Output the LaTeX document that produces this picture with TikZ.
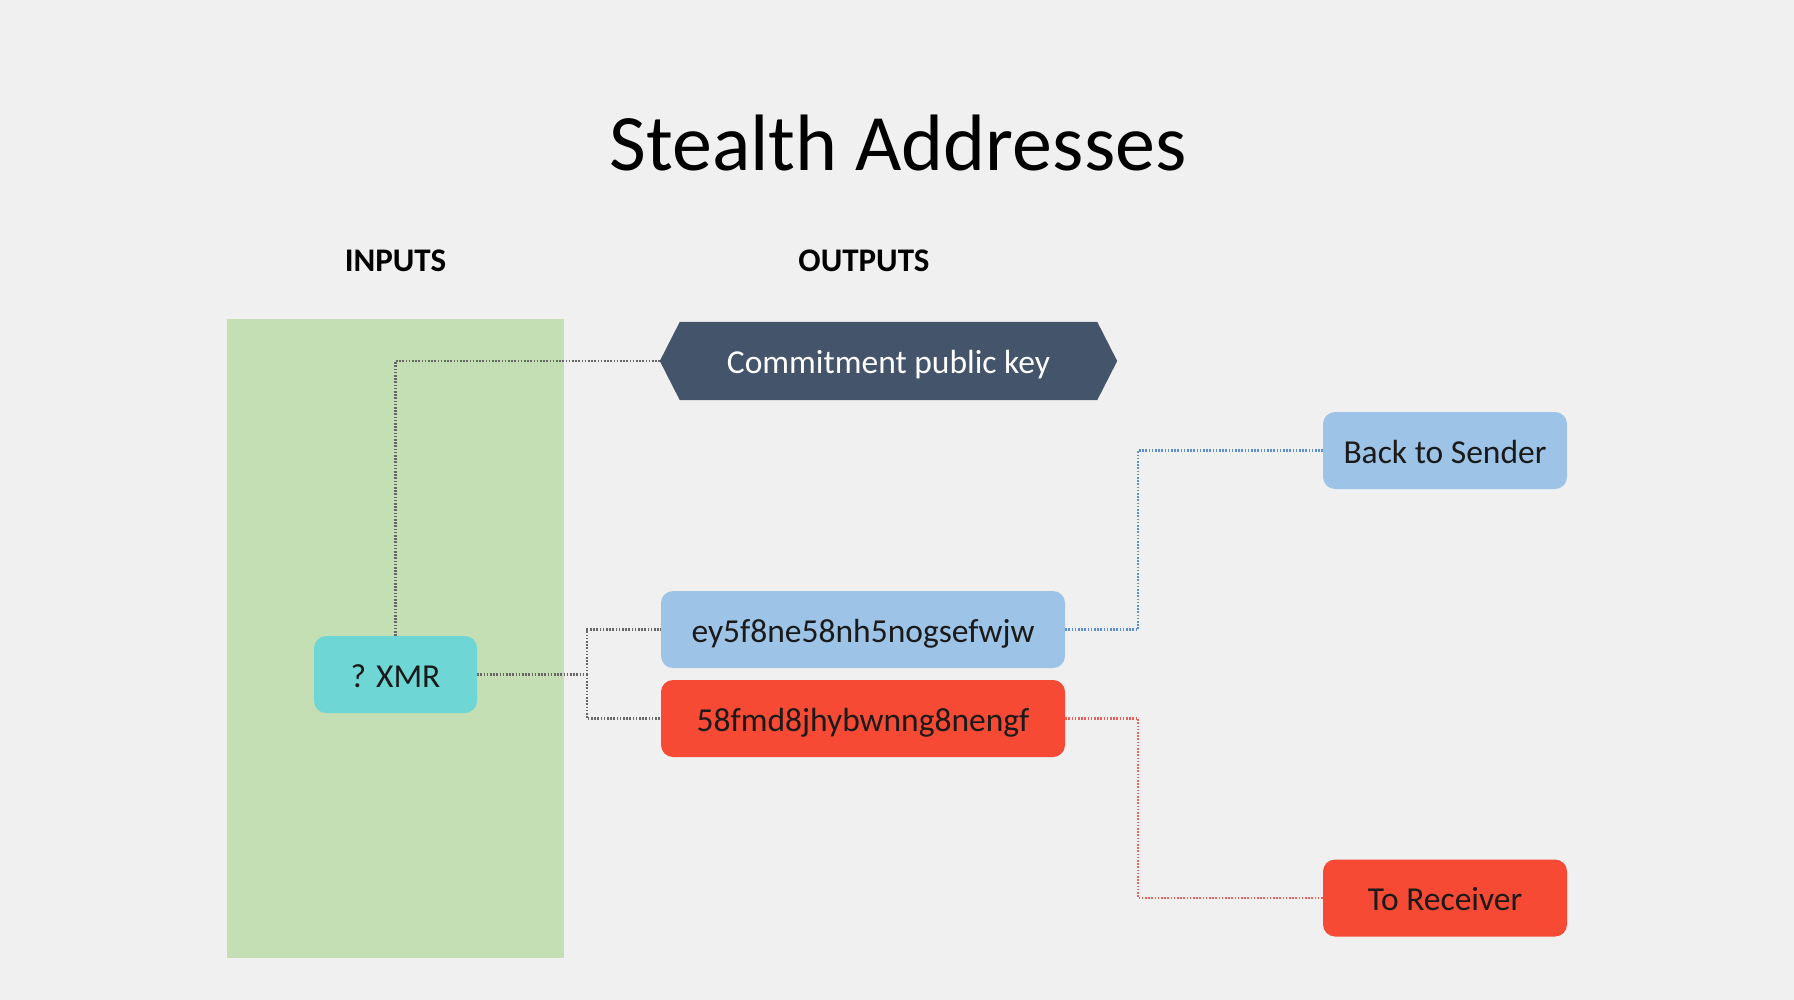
\documentclass[tikz,border=0pt]{standalone}
\usepackage{fontspec}
\setmainfont{Carlito}
\definecolor{pagebg}{HTML}{F0F0F0}
\definecolor{ingreen}{HTML}{C5DFB4}
\definecolor{xmrc}{HTML}{6FD6D6}
\definecolor{hexc}{HTML}{44546A}
\definecolor{bluebox}{HTML}{9DC3E6}
\definecolor{redbox}{HTML}{F64A35}
\definecolor{grayline}{HTML}{666666}
\definecolor{blueline}{HTML}{5B8FD0}
\definecolor{redline}{HTML}{F0605A}
\definecolor{txt}{HTML}{1A1A1A}
\pgfdeclarelayer{bgA}
\pgfdeclarelayer{bgB}
\pgfsetlayers{bgA,bgB,main}
\tikzset{
  boxtext/.style={font=\fontsize{33.5}{40}\selectfont, text=txt, text height=28pt, text depth=3pt},
  rbox/.style={boxtext, rounded corners=12pt, inner sep=0pt, anchor=center},
  conn/.style={line width=2.2pt, dash pattern=on 1.6pt off 1.6pt},
  heading/.style={font=\fontsize{33}{40}\selectfont\bfseries, text=black, anchor=base},
}
\begin{document}
\begin{tikzpicture}[x=1pt,y=-1pt]
\begin{pgfonlayer}{bgA}
\fill[pagebg] (0,0) rectangle (1794,1000);
\fill[ingreen] (227,319) rectangle (564,958);
\end{pgfonlayer}
\useasboundingbox (0,0) rectangle (1794,1000);

\node[font=\fontsize{80}{96}\selectfont, anchor=base] (title) at (898,171) {Stealth Addresses};
\node[heading] (inputs) at (395.5,272) {INPUTS};
\node[heading] (outputs) at (864,272) {OUTPUTS};

\node[rbox, fill=xmrc, minimum width=163pt, minimum height=77pt] (xmr) at (395.5,674.5) {? XMR};
\node[boxtext, text=white, minimum width=457pt, minimum height=78pt, inner sep=0pt] (cpk) at (888.5,361) {Commitment public key};
\begin{pgfonlayer}{bgB}
\fill[hexc] (cpk.west) -- ([xshift=20pt]cpk.north west) -- ([xshift=-20pt]cpk.north east) -- (cpk.east) -- ([xshift=-20pt]cpk.south east) -- ([xshift=20pt]cpk.south west) -- cycle;
\end{pgfonlayer}
\node[rbox, fill=bluebox, minimum width=404pt, minimum height=77pt] (ey) at (863,629.5) {ey5f8ne58nh5nogsefwjw};
\node[rbox, fill=redbox, minimum width=404pt, minimum height=77pt] (fm) at (863,718.5) {58fmd8jhybwnng8nengf};
\node[rbox, fill=bluebox, minimum width=244pt, minimum height=77pt] (back) at (1445,450.5) {Back to Sender};
\node[rbox, fill=redbox, minimum width=244pt, minimum height=77pt] (recv) at (1445,898) {To Receiver};

\coordinate (j) at (587,674.5);
\draw[conn, grayline] (xmr.north) |- (cpk.west);
\draw[conn, grayline] (xmr.east) -- (j);
\draw[conn, grayline] (j) |- (ey.west);
\draw[conn, grayline] (j) |- (fm.west);
\draw[conn, blueline] (ey.east) -- ++(73,0) |- (back.west);
\draw[conn, redline] (fm.east) -- ++(73,0) |- (recv.west);
\end{tikzpicture}
\end{document}
